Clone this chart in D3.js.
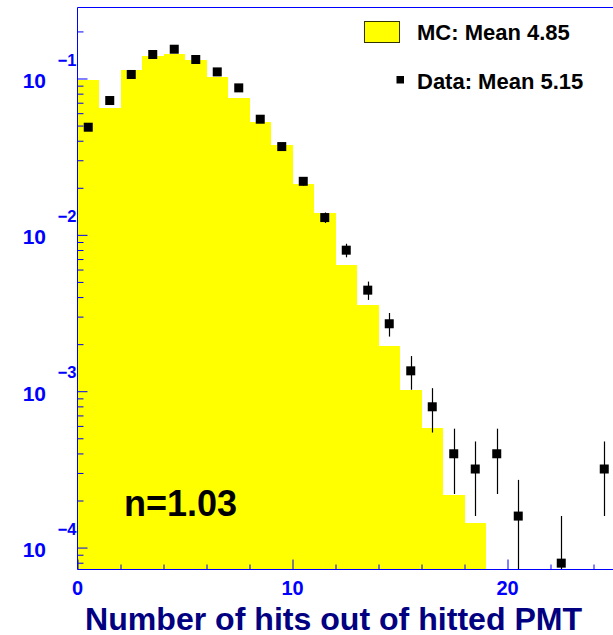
<!DOCTYPE html>
<html>
<head>
<meta charset="utf-8">
<script src="https://cdn.jsdelivr.net/npm/d3@7"></script>
<style>
  html, body { margin: 0; padding: 0; background: #ffffff; }
  svg { display: block; font-family: "Liberation Sans", Arial, Helvetica, sans-serif; font-weight: bold; }
</style>
</head>
<body>
<svg id="chart" width="613" height="635"></svg>
<script>
// Simulated (MC) distribution: normalised content of unit-width bins starting at 0
const mcValues = [0.0975, 0.0643, 0.1130, 0.1388, 0.1436, 0.1309, 0.1019, 0.0745, 0.0528, 0.0373,
                  0.0211, 0.01376, 0.00643, 0.00354, 0.00195, 0.00102, 0.000578, 0.000217, 0.000144];

// Measured distribution: normalised content and statistical error per bin (0 = empty bin)
const dataValues = [0.0488, 0.0723, 0.1061, 0.1424, 0.1539, 0.1323, 0.1102, 0.0871, 0.0549, 0.0367,
                    0.0220, 0.0129, 0.00798, 0.00443, 0.00270, 0.00135, 0.000795, 0.000398, 0.000318, 0.000398,
                    0.000159, 0, 0.0000795, 0, 0.000318];
const dataErrors = [0.00197, 0.0024, 0.0029, 0.00336, 0.0035, 0.00325, 0.00297, 0.00263, 0.00209, 0.0017,
                    0.00132, 0.00101, 0.000795, 0.000595, 0.000464, 0.000328, 0.000251, 0.000178, 0.000159, 0.000178,
                    0.000112, 0, 0.0000795, 0, 0.000159];

// Axis ranges and labels
const xDomain = [0, 25];
const yDomain = [7.24e-5, 0.2845];
const xMajorTicks = [0, 10, 20];
const xMinorTicks = [2, 4, 6, 8, 12, 14, 16, 18, 22, 24];
const yMajorExponents = [-1, -2, -3, -4];

const legendEntries = ["MC: Mean 4.85", "Data: Mean 5.15"];
const fitLabel = "n=1.03";
const xTitle = "Number of hits out of hitted PMT";

const AXIS_BLUE = "#0000ff";
const TITLE_NAVY = "#000080";
const FILL_YELLOW = "#ffff00";

const frame = { left: 77.5, right: 615, top: 7.5, bottom: 569.5 };

const svg = d3.select("#chart");

const x = d3.scaleLinear().domain(xDomain).range([frame.left, frame.right]);
const y = d3.scaleLog().domain(yDomain).range([frame.bottom, frame.top]);

svg.append("defs").append("clipPath").attr("id", "plotClip")
  .append("rect")
  .attr("x", frame.left).attr("y", frame.top)
  .attr("width", frame.right - frame.left).attr("height", frame.bottom - frame.top);

const plot = svg.append("g").attr("clip-path", "url(#plotClip)");

// MC histogram as a filled step outline
const mcSteps = mcValues.map((v, i) => ({ edge: i, v }));
mcSteps.push({ edge: mcValues.length, v: mcValues[mcValues.length - 1] });
const mcArea = d3.area()
  .x(d => x(d.edge))
  .y0(frame.bottom)
  .y1(d => y(d.v))
  .curve(d3.curveStepAfter);
plot.append("path")
  .datum(mcSteps)
  .attr("d", mcArea)
  .attr("fill", FILL_YELLOW)
  .attr("shape-rendering", "crispEdges");

// Data points with error bars
const points = dataValues
  .map((v, i) => ({ center: i + 0.5, v, err: dataErrors[i] }))
  .filter(d => d.v > 0);

plot.selectAll("line.err")
  .data(points)
  .join("line")
  .attr("class", "err")
  .attr("x1", d => Math.round(x(d.center)) + 0.5)
  .attr("x2", d => Math.round(x(d.center)) + 0.5)
  .attr("y1", d => y(d.v + d.err))
  .attr("y2", d => (d.v - d.err) > yDomain[0] ? y(d.v - d.err) : frame.bottom + 2)
  .attr("stroke", "#000000")
  .attr("stroke-width", 1.2);

const markerSize = 9;
plot.selectAll("rect.pt")
  .data(points)
  .join("rect")
  .attr("class", "pt")
  .attr("x", d => x(d.center) - markerSize / 2)
  .attr("y", d => y(d.v) - markerSize / 2)
  .attr("width", markerSize)
  .attr("height", markerSize)
  .attr("fill", "#000000");

// Fit label inside the plot
svg.append("text")
  .attr("x", 124)
  .attr("y", 516)
  .attr("font-size", 36)
  .attr("fill", "#000000")
  .text(fitLabel);

// Axes: ticks point into the frame
const yMinorValues = [];
for (let e = -5; e <= 0; e++) {
  for (let m = 2; m <= 9; m++) {
    const v = m * Math.pow(10, e);
    if (v > yDomain[0] && v < yDomain[1]) yMinorValues.push(v);
  }
}
const yMajorValues = yMajorExponents.map(e => Math.pow(10, e));

function styleAxis(g) {
  g.select(".domain").remove();
  g.selectAll(".tick line").attr("stroke", AXIS_BLUE).attr("stroke-width", 1);
  g.selectAll(".tick text").remove();
}

svg.append("g")
  .attr("transform", `translate(${frame.left},0)`)
  .call(d3.axisLeft(y).tickValues(yMinorValues).tickSize(-6).tickFormat(""))
  .call(styleAxis);
svg.append("g")
  .attr("transform", `translate(${frame.left},0)`)
  .call(d3.axisLeft(y).tickValues(yMajorValues).tickSize(-10).tickFormat(""))
  .call(styleAxis);

svg.append("g")
  .attr("transform", `translate(0,${frame.bottom})`)
  .call(d3.axisBottom(x).tickValues(xMinorTicks).tickSize(-5).tickFormat(""))
  .call(styleAxis);
svg.append("g")
  .attr("transform", `translate(0,${frame.bottom})`)
  .call(d3.axisBottom(x).tickValues(xMajorTicks).tickSize(-10).tickFormat(""))
  .call(styleAxis);

// Frame lines (left, bottom, top)
svg.append("path")
  .attr("d", `M${frame.right},${frame.top}H${frame.left}V${frame.bottom}H${frame.right}`)
  .attr("fill", "none")
  .attr("stroke", AXIS_BLUE)
  .attr("stroke-width", 1);

// Y labels: 10 with a raised exponent
const yLabels = svg.append("g").attr("fill", AXIS_BLUE);
yLabels.selectAll("text.base")
  .data(yMajorExponents)
  .join("text")
  .attr("class", "base")
  .attr("x", 46)
  .attr("y", e => y(Math.pow(10, e)) + 9.5)
  .attr("text-anchor", "end")
  .attr("font-size", 21)
  .text("10");
yLabels.selectAll("text.exp")
  .data(yMajorExponents)
  .join("text")
  .attr("class", "exp")
  .attr("x", 76.5)
  .attr("y", e => y(Math.pow(10, e)) - 12.8)
  .attr("text-anchor", "end")
  .attr("font-size", 16.5)
  .text(e => "\u2212" + Math.abs(e));

// X labels
svg.append("g").attr("fill", AXIS_BLUE)
  .selectAll("text")
  .data(xMajorTicks)
  .join("text")
  .attr("x", d => x(d))
  .attr("y", 595)
  .attr("text-anchor", "middle")
  .attr("font-size", 20)
  .text(d => d);

// X title
svg.append("text")
  .attr("x", 85)
  .attr("y", 629.5)
  .attr("font-size", 32.1)
  .attr("fill", TITLE_NAVY)
  .text(xTitle);

// Legend
const legend = svg.append("g");
legend.append("rect")
  .attr("x", 364.5).attr("y", 21.5)
  .attr("width", 35).attr("height", 21)
  .attr("fill", FILL_YELLOW)
  .attr("stroke", "#333300")
  .attr("stroke-width", 1);
legend.append("rect")
  .attr("x", 396.5).attr("y", 76)
  .attr("width", 7.5).attr("height", 7.5)
  .attr("fill", "#000000");
legend.selectAll("text")
  .data(legendEntries)
  .join("text")
  .attr("x", 417)
  .attr("y", (d, i) => i === 0 ? 39.5 : 88.5)
  .attr("font-size", 22)
  .attr("fill", "#000000")
  .text(d => d);
</script>
</body>
</html>
